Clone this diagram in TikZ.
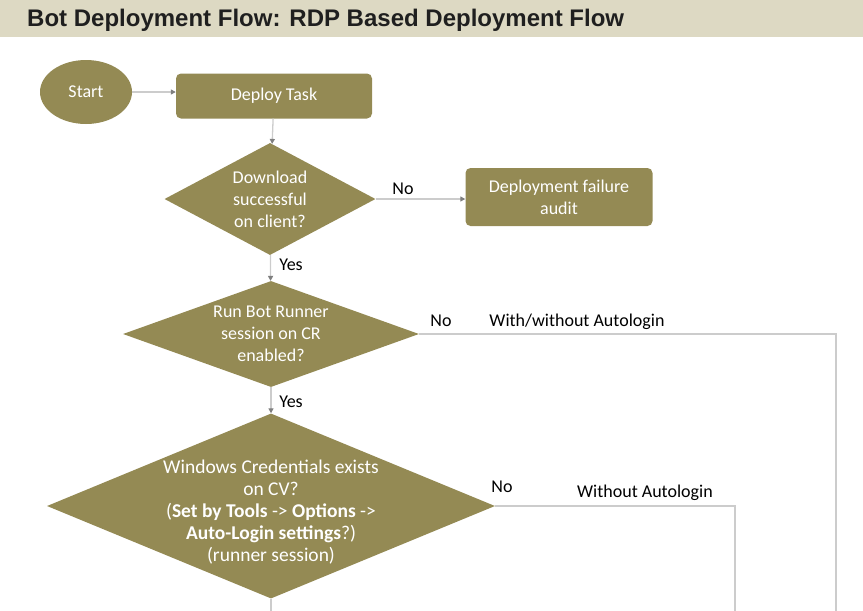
\documentclass[tikz,border=0pt]{standalone}
\usepackage{fontspec}
\setmainfont{Carlito}
\newfontfamily\titlefont{Liberation Sans}
\usetikzlibrary{shapes.geometric,arrows.meta}

\definecolor{flowolive}{HTML}{948A54}
\definecolor{headbg}{HTML}{DDD9C3}
\definecolor{linegray}{HTML}{CCCCCC}
\definecolor{tipgray}{HTML}{7F7F7F}

\tikzset{
    flowtext/.style={font=\fontsize{18}{22}\selectfont},
    startnode/.style={ellipse, fill=flowolive, text=white, flowtext,
        minimum width=92pt, minimum height=64pt},
    taskbox/.style={rectangle, rounded corners=5pt, fill=flowolive, text=white,
        flowtext, align=center, inner sep=0pt},
    decision/.style={diamond, fill=flowolive, inner sep=0pt},
    dtext/.style={text=white, flowtext, align=center, inner sep=0pt},
    lbl/.style={text=black, flowtext, inner sep=0pt},
    conn/.style={draw=linegray, line width=1.3pt},
    arr/.style={conn, -{Triangle[width=5pt,length=5pt,color=tipgray]}}
}

\begin{document}
\begin{tikzpicture}[x=1pt,y=-1pt]
    \useasboundingbox (0,0) rectangle (863,611);

    % Cabecera
    \fill[headbg] (0,0) rectangle (863,37);
    \node[anchor=west, inner sep=0pt, text=black!88,
        font=\titlefont\bfseries\fontsize{24}{28}\selectfont] (title) at (27,20)
        {Bot Deployment Flow: RDP Based Deployment Flow};

    % Inicio y tarea
    \node[startnode] (start) at (86,92) {Start};
    \node[taskbox, minimum width=196pt, minimum height=45pt] (deploy) at (274,96) {Deploy Task};

    % Primera decision
    \node[decision, minimum width=211pt, minimum height=112pt] (dl) at (270,199) {};
    \node[dtext] (dltext) at (dl) {Download\\successful\\on client?};
    \node[taskbox, minimum width=187pt, minimum height=58pt] (fail) at (559,197)
        {Deployment failure\\audit};

    % Segunda decision
    \node[decision, minimum width=296pt, minimum height=106pt] (rb) at (271,334) {};
    \node[dtext] (rbtext) at (rb) {Run Bot Runner\\session on CR\\enabled?};

    % Tercera decision
    \node[decision, minimum width=448pt, minimum height=185pt] (wc) at (271,506) {};
    \node[dtext, font=\fontsize{19.5}{22}\selectfont] (wctext) at (271,512)
        {Windows Credentials exists\\on CV?\\
        (\textbf{Set by Tools} -> \textbf{Options} ->\\
        \textbf{Auto-Login settings}?)\\(runner session)};

    % Salidas hacia abajo
    \coordinate (rbend) at (836,611);
    \coordinate (wcend) at (735,611);
    \coordinate (wcout) at (271,611);

    % Conectores
    \draw[arr] (start) -- (start -| deploy.west);
    \draw[arr] (deploy) -- (dl);
    \draw[arr] (dl) -- (dl -| fail.west);
    \draw[arr] (dl) -- (rb);
    \draw[arr] (rb) -- (wc);
    \draw[conn] (rb.east) -| (rbend);
    \draw[conn] (wc.east) -| (wcend);
    \draw[conn] (wc.south) -- (wcout);

    % Etiquetas
    \node[lbl] (nodl) at (403,189) {No};
    \node[lbl] (yesdl) at (291,265) {Yes};
    \node[lbl] (norb) at (441,321) {No};
    \node[lbl] (withrb) at (577,322) {With/without Autologin};
    \node[lbl] (yesrb) at (291,402) {Yes};
    \node[lbl] (nowc) at (502,487) {No};
    \node[lbl] (withoutwc) at (645,493) {Without Autologin};
\end{tikzpicture}
\end{document}
